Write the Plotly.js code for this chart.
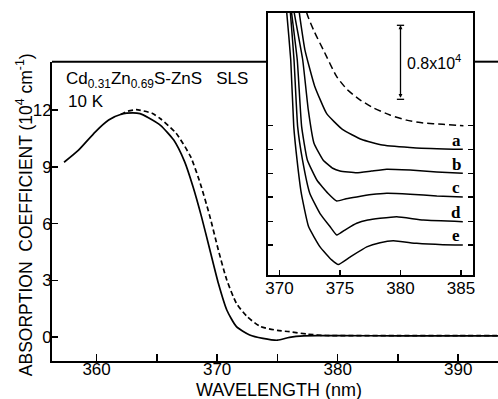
<!DOCTYPE html>
<html>
<head>
<meta charset="utf-8">
<script src="https://cdn.plot.ly/plotly-3.0.1.min.js"></script>
<style>html,body{margin:0;padding:0;background:#fff;}#chart{width:498px;height:399px;}</style>
</head>
<body>
<div id="chart"></div>
<script>
// ---- Main panel data (wavelength nm, absorption coefficient 10^4 cm^-1)
const mainSolidX = [357.3, 358.5, 359.9, 361.0, 362.1, 363.0, 363.6, 364.3, 365.3, 366.4, 367.3, 368.0, 368.7, 369.4, 370.1, 370.8, 371.6, 372.7, 373.8, 375.0, 376.0, 377.2, 378.5, 380, 385, 390, 394];
const mainSolidY = [9.25, 9.89, 10.86, 11.48, 11.8, 11.86, 11.82, 11.6, 11.2, 10.42, 9.28, 7.95, 6.37, 4.60, 2.84, 1.43, 0.55, 0.11, -0.07, -0.17, -0.02, 0.06, 0.07, 0.07, 0.06, 0.06, 0.06];
const mainDashX = [362.0, 362.6, 363.3, 364.6, 365.3, 366.6, 367.8, 368.6, 369.4, 370.1, 370.8, 371.6, 372.5, 373.6, 375.0, 376.0, 377.5, 379, 385, 390, 394];
const mainDashY = [11.78, 11.95, 12.03, 11.84, 11.55, 10.78, 9.54, 8.13, 6.37, 4.60, 3.02, 1.78, 1.07, 0.55, 0.35, 0.28, 0.15, 0.08, 0.07, 0.07, 0.07];

const mainXTicks = [360, 370, 380, 390];
const mainXTickText = ["360", "370", "380", "390"];
const mainXMinorStep = 5;
const mainYTicks = [0, 3, 6, 9, 12];
const xTitle = "WAVELENGTH (nm)";
const yTitle = "ABSORPTION  COEFFICIENT (10<sup>4</sup> cm<sup>-1</sup>)";

// ---- Inset data (wavelength nm, offset absorption in 10^4 cm^-1)
const insetDashX = [372.0, 372.25, 372.9, 373.62, 374.73, 375.6, 376.65, 377.8, 379.13, 380.5, 381.88, 383.5, 385.2];
const insetDashY = [2.75, 2.51, 2.30, 2.11, 1.82, 1.68, 1.57, 1.48, 1.405, 1.35, 1.32, 1.305, 1.29];

const aX = [371.5, 371.64, 372.1, 372.9, 373.9, 375.2, 376.8, 378.5, 381.3, 385.15];
const aY = [2.75, 2.51, 2.11, 1.72, 1.42, 1.25, 1.14, 1.08, 1.05, 1.035];

const bX = [371.0, 371.22, 371.92, 372.38, 372.85, 373.6, 374.4, 375.0, 376.38, 377.6, 378.86, 380.79, 383.0, 385.15];
const bY = [2.75, 2.51, 2.0, 1.46, 1.10, 0.92, 0.83, 0.80, 0.78, 0.80, 0.82, 0.81, 0.79, 0.775];

const cX = [370.8, 371.0, 371.47, 371.83, 372.3, 373.1, 374.0, 374.73, 375.5, 376.38, 377.6, 378.86, 380.79, 383.0, 385.15];
const cY = [2.75, 2.51, 2.0, 1.28, 0.92, 0.70, 0.56, 0.476, 0.50, 0.52, 0.545, 0.56, 0.55, 0.53, 0.52];

const dX = [370.7, 370.9, 371.2, 371.5, 371.9, 372.5, 373.35, 374.17, 374.73, 375.5, 376.38, 377.3, 378.31, 379.69, 381.88, 385.15];
const dY = [2.75, 2.51, 2.0, 1.28, 0.92, 0.56, 0.34, 0.20, 0.108, 0.17, 0.235, 0.27, 0.289, 0.306, 0.27, 0.252];

const eX = [370.4, 370.6, 370.93, 371.18, 371.45, 371.8, 372.4, 373.35, 374.31, 374.86, 375.83, 377.21, 378.31, 379.40, 381.34, 383.5, 385.15];
const eY = [2.75, 2.51, 2.0, 1.28, 0.92, 0.56, 0.20, -0.02, -0.16, -0.21, -0.13, -0.02, 0.025, 0.046, 0.018, 0.003, 0.0];

const insetXTicks = [370, 375, 380, 385];
const insetBaselines = [0, 0.252, 0.52, 0.775, 1.035, 1.29];
const curveLabels = ["e", "d", "c", "b", "a"];

// scale bar: 0.8 x 10^4 cm^-1
const scaleBarX = 380.0;
const scaleBarBottom = 1.575;
const scaleBarLength = 0.8;

const font = "Liberation Sans, Arial, Helvetica, sans-serif";
const black = "#000";

const traces = [
  {x: mainSolidX, y: mainSolidY, type: "scatter", mode: "lines", xaxis: "x", yaxis: "y",
   line: {color: black, width: 1.7, shape: "spline", smoothing: 0.6}, showlegend: false, name: "SLS"},
  {x: mainDashX, y: mainDashY, type: "scatter", mode: "lines", xaxis: "x", yaxis: "y",
   line: {color: black, width: 1.7, dash: "5px,3px", shape: "spline", smoothing: 0.6}, showlegend: false, name: "dashed"},
  {x: insetDashX, y: insetDashY, type: "scatter", mode: "lines", xaxis: "x2", yaxis: "y2",
   line: {color: black, width: 1.5, dash: "7px,4px", shape: "spline", smoothing: 0.6}, showlegend: false, name: "inset dashed"}
];
const curves = [[eX, eY], [dX, dY], [cX, cY], [bX, bY], [aX, aY]];
curves.forEach((c, i) => {
  traces.push({x: c[0], y: c[1], type: "scatter", mode: "lines", xaxis: "x2", yaxis: "y2",
    line: {color: black, width: 1.5, shape: "spline", smoothing: 0.4}, showlegend: false, name: curveLabels[i]});
});

const insetDomX = [0.4843, 0.9439];
const mainTop = 0.8601;

const annotations = [
  {xref: "paper", yref: "paper", x: 0.508, y: -0.082, xanchor: "center", yanchor: "middle", showarrow: false,
   text: xTitle, font: {family: font, size: 18, color: black}},
  {xref: "paper", yref: "paper", x: -0.062, y: 0.42, xanchor: "center", yanchor: "middle", showarrow: false,
   textangle: -90, text: yTitle, font: {family: font, size: 17.5, color: black}},
  {xref: "paper", yref: "paper", x: 0.027, y: 0.8075, xanchor: "left", yanchor: "middle", showarrow: false,
   text: "Cd<sub>0.31</sub>Zn<sub>0.69</sub>S-ZnS\u00a0\u00a0 SLS", font: {family: font, size: 17, color: black}},
  {xref: "paper", yref: "paper", x: 0.032, y: 0.745, xanchor: "left", yanchor: "middle", showarrow: false,
   text: "10 K", font: {family: font, size: 17, color: black}},
  {xref: "x2", yref: "y2", x: scaleBarX + 0.35, y: scaleBarBottom + scaleBarLength / 2, xanchor: "left", yanchor: "middle",
   showarrow: false, text: "0.8x10<sup>4</sup>", font: {family: font, size: 16, color: black}},
  {xref: "x2", yref: "y2", x: scaleBarX, y: scaleBarBottom + scaleBarLength, axref: "x2", ayref: "y2",
   ax: scaleBarX, ay: scaleBarBottom, text: "", showarrow: true, arrowside: "end+start", arrowhead: 2,
   arrowsize: 0.6, arrowwidth: 1.3, arrowcolor: black, standoff: 0, startstandoff: 0}
];
curveLabels.forEach((lab, i) => {
  annotations.push({xref: "x2", yref: "y2", x: 384.6, y: insetBaselines[i] + 0.1, xanchor: "center", yanchor: "middle",
    showarrow: false, text: "<b>" + lab + "</b>", font: {family: "Liberation Serif, Times New Roman, serif", size: 17, color: black}});
});

const shapes = [
  {type: "line", xref: "paper", yref: "paper", x0: 0, x1: insetDomX[0], y0: mainTop, y1: mainTop, line: {color: black, width: 2}},
  {type: "line", xref: "paper", yref: "paper", x0: insetDomX[1], x1: 1, y0: mainTop, y1: mainTop, line: {color: black, width: 2}},
  {type: "line", xref: "x2", yref: "y2", x0: scaleBarX - 0.3, x1: scaleBarX + 0.3, y0: scaleBarBottom, y1: scaleBarBottom, line: {color: black, width: 1.3}},
  {type: "line", xref: "x2", yref: "y2", x0: scaleBarX - 0.3, x1: scaleBarX + 0.3, y0: scaleBarBottom + scaleBarLength, y1: scaleBarBottom + scaleBarLength, line: {color: black, width: 1.3}}
];

const layout = {
  width: 498, height: 399,
  margin: {l: 52, r: 0, t: 13, b: 38, pad: 0},
  paper_bgcolor: "#fff", plot_bgcolor: "#fff",
  font: {family: font, color: black, size: 16},
  showlegend: false,
  xaxis: {
    domain: [0, 1], range: [356.3, 393.3], tickmode: "array", tickvals: mainXTicks, ticktext: mainXTickText,
    ticks: "inside", ticklen: 7, tickwidth: 1.5, tickcolor: black, ticklabelstandoff: -8,
    minor: {dtick: mainXMinorStep, tick0: 360, ticks: "inside", ticklen: 7, tickwidth: 1.5, tickcolor: black, showgrid: false},
    showline: true, linewidth: 2, linecolor: black, mirror: false, showgrid: false, zeroline: false,
    tickfont: {family: font, size: 17, color: black}
  },
  yaxis: {
    domain: [0, mainTop], range: [-1.27, 14.57], tickmode: "array", tickvals: mainYTicks,
    ticks: "inside", ticklen: 6, tickwidth: 1.5, tickcolor: black, ticklabelstandoff: -5,
    showline: true, linewidth: 2, linecolor: black, mirror: false, showgrid: false, zeroline: false,
    tickfont: {family: font, size: 17, color: black}
  },
  xaxis2: {
    domain: insetDomX, anchor: "y2", range: [369.05, 385.99], tickmode: "array", tickvals: insetXTicks,
    ticks: "inside", ticklen: 5, tickwidth: 1.5, tickcolor: black, ticklabelstandoff: -3,
    showline: true, linewidth: 1.6, linecolor: black, mirror: true, showgrid: false, zeroline: false,
    tickfont: {family: font, size: 17, color: black}
  },
  yaxis2: {
    domain: [0.2471, 1], anchor: "x2", range: [-0.324, 2.508], tickmode: "array", tickvals: insetBaselines,
    showticklabels: false, ticks: "inside", ticklen: 5, tickwidth: 1.5, tickcolor: black,
    showline: true, linewidth: 1.6, linecolor: black, mirror: "ticks", showgrid: false, zeroline: false
  },
  annotations: annotations,
  shapes: shapes
};

Plotly.newPlot("chart", traces, layout, {staticPlot: true, displayModeBar: false});
</script>
</body>
</html>
